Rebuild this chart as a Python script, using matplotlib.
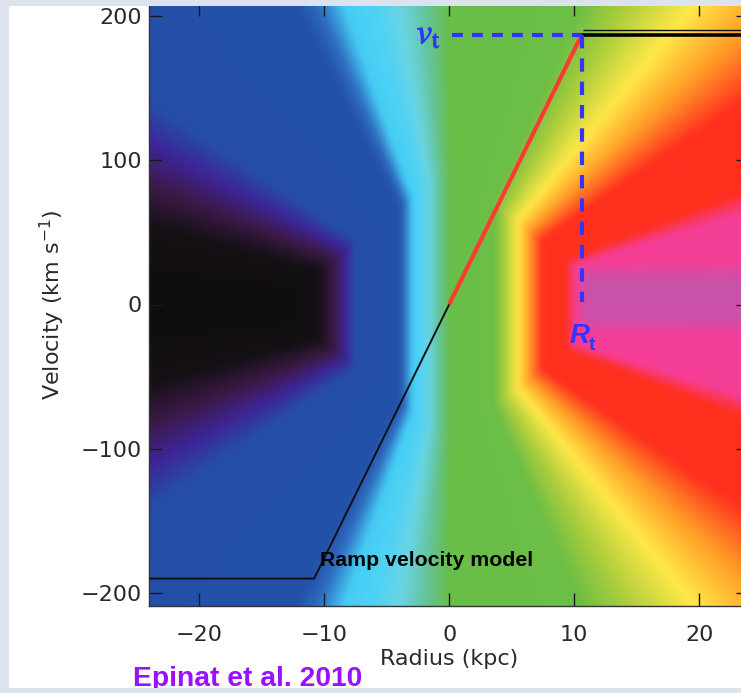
import numpy as np
import matplotlib
matplotlib.use("Agg")
import matplotlib.pyplot as plt
from matplotlib.colors import LinearSegmentedColormap, Normalize, to_rgb
from matplotlib.patches import Rectangle
import matplotlib.patheffects as pe

# ---------------- data ----------------
# Ramp rotation-curve model (radius in kpc, velocity in km/s)
ramp_radius = [-24.0, -10.8, 0.0, 10.6, 24.0]
ramp_velocity = [-190.0, -190.0, 0.0, 187.0, 187.0]
turnover_radius = 10.6      # R_t
turnover_velocity = 187.0   # v_t

# background velocity-field shape parameters
field_r0 = 14.0     # kpc
field_v0 = 95.0     # km/s
core_r_start = 10.2       # kpc, start of the magenta core
core_v_centre = 4.0       # km/s
core_half_height = 24.0   # km/s
core_colour = "#c852a9"

# colour table for the background (value -1 .. 1)
cmap_values = [-1.00, -0.75, -0.66, -0.595, -0.535, -0.285, -0.255, -0.215,
               -0.165, -0.115, -0.057, 0.0, 0.255, 0.315, 0.39, 0.455,
               0.53, 0.67, 0.715, 1.00]
cmap_colors = ["#0e0c0e", "#141014", "#3c1a48", "#3e2496", "#254ea8",
               "#2352aa", "#2f6cc0", "#46cdf5", "#4fd2f4", "#6ad4e4",
               "#64c396", "#68be48", "#6cbe46", "#aacd3c", "#ffe848",
               "#ffa028", "#ff301e", "#ff301e", "#f53e96", "#f0409c"]

x_ticks = [-20, -10, 0, 10, 20]
y_ticks = [-200, -100, 0, 100, 200]
x_limits = (-24, 24)
y_limits = (-209, 209)

# ---------------- figure ----------------
plt.rcParams["font.family"] = ["DejaVu Sans"]
W, H = 741, 693
fig = plt.figure(figsize=(W / 100, H / 100), dpi=100, facecolor="white")

ax_left, ax_right, ax_bottom, ax_top = 149, 749.3, 606, 3
ax = fig.add_axes([ax_left / W, (H - ax_bottom) / H,
                   (ax_right - ax_left) / W, (ax_bottom - ax_top) / H])

cmap = LinearSegmentedColormap.from_list(
    "field", list(zip([(v + 1) / 2 for v in cmap_values], cmap_colors)), N=2048)

xs = np.linspace(x_limits[0], x_limits[1], 640)
vs = np.linspace(y_limits[0], y_limits[1], 640)
XX, VV = np.meshgrid(xs, vs)
field = XX / np.maximum(field_r0, np.abs(XX) + field_r0 / field_v0 * np.abs(VV))
rgb = cmap(Normalize(-1, 1)(field))[..., :3]

# magenta core on the receding side
core_w = (np.clip((XX - core_r_start) / 0.8, 0, 1) *
          np.clip((core_half_height - np.abs(VV - core_v_centre)) / 10.0, 0, 1))
core_w = core_w[..., None] * 0.95
rgb = rgb * (1 - core_w) + np.array(to_rgb(core_colour)) * core_w


def box_blur(img, k):
    pad = k // 2
    out = img
    for axis in (0, 1):
        padw = [(0, 0)] * 3
        padw[axis] = (pad + 1, pad)
        p = np.pad(out, padw, mode="edge")
        c = np.cumsum(p, axis=axis)
        if axis == 0:
            out = (c[k:] - c[:-k]) / k
        else:
            out = (c[:, k:] - c[:, :-k]) / k
    return out


rgb = box_blur(box_blur(rgb, 7), 7)
ax.imshow(np.clip(rgb, 0, 1),
          extent=[x_limits[0], x_limits[1], y_limits[0], y_limits[1]],
          origin="lower", aspect="auto", interpolation="bilinear", zorder=0)

# ramp model
ax.plot(ramp_radius[:4], ramp_velocity[:4], color="#111111", lw=1.4, zorder=3)
ax.plot(ramp_radius[2:4], ramp_velocity[2:4], color="#ff3a32", lw=3.0,
        solid_capstyle="butt", zorder=4)
ax.plot(ramp_radius[3:], ramp_velocity[3:], color="black", lw=2.6,
        solid_capstyle="butt", zorder=4,
        path_effects=[pe.Stroke(offset=(0.6, 3.2), linewidth=1.0,
                                foreground="#111111"), pe.Normal()])

# dashed guides
ax.plot([0.2, turnover_radius], [turnover_velocity, turnover_velocity],
        color="#3434ff", lw=3.0, dashes=(2.6, 2.2), zorder=5)
ax.plot([turnover_radius, turnover_radius], [turnover_velocity, 2],
        color="#3434ff", lw=3.0, dashes=(3.2, 2.4), zorder=5)

ax.text(-2.6, 181, r"$v_{\mathrm{t}}$", color="#3434ff", fontsize=25,
        math_fontfamily="stix", ha="left", va="baseline", zorder=6,
        path_effects=[pe.withStroke(linewidth=0.8, foreground="#3434ff")])
ax.text(9.66, -27, "R", color="#3434ff", fontsize=20, fontweight="bold",
        fontstyle="italic", family="Liberation Sans", ha="left",
        va="baseline", zorder=6)
ax.annotate("t", xy=(9.66, -27), xytext=(13.5, -5), textcoords="offset points",
            color="#3434ff", fontsize=14, fontweight="bold",
            family="Liberation Sans", ha="left", va="baseline", zorder=6)

ax.text(-10.3, -181, "Ramp velocity model", color="black", fontsize=15.3,
        fontweight="bold", family="Liberation Sans", ha="left",
        va="baseline", zorder=6)

ax.set_xlim(*x_limits)
ax.set_ylim(*y_limits)
ax.set_xticks(x_ticks)
ax.set_yticks(y_ticks)
ax.set_xticklabels([f"{t}".replace("-", "\u2212") for t in x_ticks])
ax.set_yticklabels([f"{t}".replace("-", "\u2212") for t in y_ticks])
ax.tick_params(direction="in", length=9.4, width=1.0, top=True, right=True,
               labelsize=16, labelcolor="#2a2a2a", color="#1a1a1a")
ax.tick_params(axis="x", pad=14)
ax.tick_params(axis="y", pad=5)
for s in ax.spines.values():
    s.set_color("#333333")
    s.set_linewidth(1.0)

ax.set_ylabel("Velocity (km s$^{-1}$)", fontsize=16, color="#2a2a2a")
ax.yaxis.set_label_coords(-0.136, 0.5)
ax.set_xlabel("Radius (kpc)", fontsize=16, color="#2a2a2a", va="top")
ax.xaxis.set_label_coords(0.5, -0.072)

fig.text(133 / W, 6.5 / H, "Epinat et al. 2010", color="#9a10ff",
         fontsize=20.3, fontweight="bold", family="Liberation Sans",
         ha="left", va="baseline", zorder=5)

# light frame around the slide
band = "#dde3ee"
for (x0, y0, w, h) in [(0, 0, 9, H), (0, H - 6, W, 6), (0, 0, W, 5)]:
    fig.add_artist(Rectangle((x0 / W, y0 / H), w / W, h / H,
                             transform=fig.transFigure, facecolor=band,
                             edgecolor="none", zorder=20))

fig.savefig("out.png", dpi=100, facecolor=fig.get_facecolor())
